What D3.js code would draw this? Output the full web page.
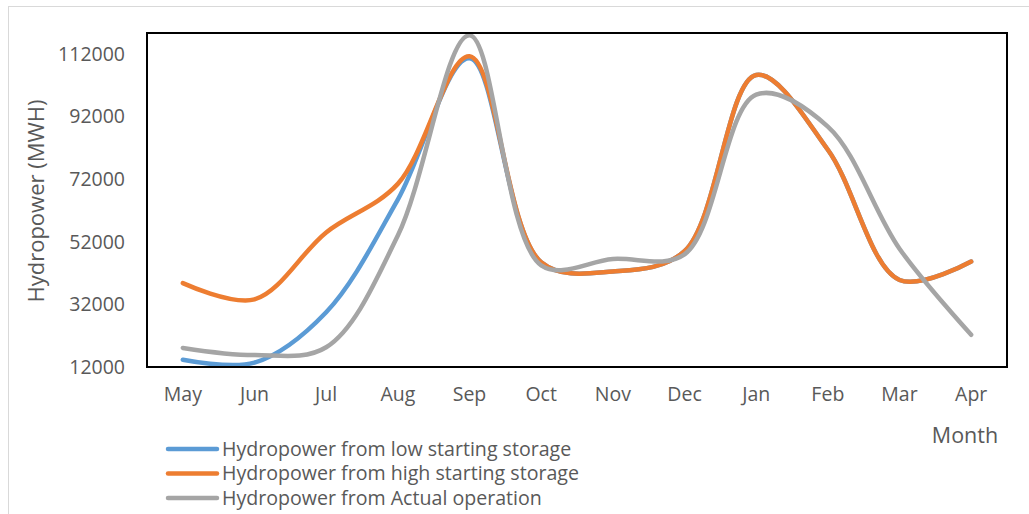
<!DOCTYPE html>
<html>
<head>
<meta charset="utf-8">
<script src="https://cdn.jsdelivr.net/npm/d3@7"></script>
<style>
  html, body { margin: 0; padding: 0; background: #fff; }
  svg { display: block; font-family: "Open Sans", "Noto Sans", sans-serif; }
</style>
</head>
<body>
<svg id="chart" width="1029" height="514"></svg>
<script>
// Monthly hydropower output (MWH) over the operating year, May to April
const months = ["May", "Jun", "Jul", "Aug", "Sep", "Oct", "Nov", "Dec", "Jan", "Feb", "Mar", "Apr"];
const lowStorage  = [14300, 13400, 29500, 65500, 110600, 45500, 42500, 49000, 105300, 81400, 39800, 45700];
const highStorage = [38800, 33600, 55000, 70500, 111300, 45500, 42500, 49000, 105300, 81400, 39800, 45700];
const actualOps   = [18100, 15800, 18300, 54000, 118000, 44500, 46500, 48000, 99000, 88800, 49800, 22300];
const yTicks = [12000, 32000, 52000, 72000, 92000, 112000];
const seriesNames = [
  "Hydropower from low starting storage",
  "Hydropower from high starting storage",
  "Hydropower from Actual operation"
];
const seriesColors = ["#5B9BD5", "#ED7D31", "#A5A5A5"];

const svg = d3.select("#chart");
const W = 1029, H = 514;
const plot = { left: 147, top: 33, right: 1007, bottom: 367 };

// outer chart-area border
svg.append("rect")
  .attr("x", 8.5).attr("y", 6.5)
  .attr("width", W + 10).attr("height", H + 10)
  .attr("fill", "#fff").attr("stroke", "#d9d9d9").attr("stroke-width", 1);

const x = d3.scaleBand().domain(months).range([plot.left, plot.right]).padding(0);
const xc = m => x(m) + x.bandwidth() / 2;
const y = d3.scaleLinear().domain([12000, 118700]).range([plot.bottom, plot.top]);

// y axis labels
const yAxis = d3.axisLeft(y).tickValues(yTicks).tickSize(0).tickPadding(0).tickFormat(d3.format("d"));
const gy = svg.append("g").attr("transform", `translate(125,0)`).call(yAxis);
gy.select(".domain").remove();
gy.selectAll("text")
  .attr("fill", "#595959").attr("font-size", 19.5)
  .attr("font-family", "'Open Sans', sans-serif");

// x axis labels
const xAxis = d3.axisBottom(x).tickSize(0).tickPadding(0);
const gx = svg.append("g").attr("transform", `translate(0,${plot.bottom + 20})`).call(xAxis);
gx.select(".domain").remove();
gx.selectAll("text")
  .attr("fill", "#595959").attr("font-size", 19.5)
  .attr("font-family", "'Open Sans', sans-serif");

// series lines (smoothed, centripetal spline keeps overshoot small)
const line = d3.line()
  .x((d, i) => xc(months[i]))
  .y(d => y(d))
  .curve(d3.curveCatmullRom.alpha(0.5));

const allSeries = [lowStorage, highStorage, actualOps];
svg.append("g").selectAll("path")
  .data(allSeries)
  .join("path")
  .attr("d", d => line(d))
  .attr("fill", "none")
  .attr("stroke", (d, i) => seriesColors[i])
  .attr("stroke-width", 4.5)
  .attr("stroke-linecap", "round")
  .attr("stroke-linejoin", "round");

// plot-area frame
svg.append("rect")
  .attr("x", plot.left).attr("y", plot.top)
  .attr("width", plot.right - plot.left).attr("height", plot.bottom - plot.top)
  .attr("fill", "none").attr("stroke", "#000").attr("stroke-width", 2);

// axis titles
svg.append("text")
  .attr("transform", `translate(44,201) rotate(-90)`)
  .attr("text-anchor", "middle")
  .attr("fill", "#595959").attr("font-size", 22)
  .text("Hydropower (MWH)");

svg.append("text")
  .attr("x", 965).attr("y", 443)
  .attr("text-anchor", "middle")
  .attr("fill", "#595959").attr("font-size", 21.5)
  .text("Month");

// legend
const legend = svg.append("g");
const legendY = [449, 473.5, 498];
seriesNames.forEach((name, i) => {
  legend.append("line")
    .attr("x1", 168).attr("x2", 217)
    .attr("y1", legendY[i]).attr("y2", legendY[i])
    .attr("stroke", seriesColors[i]).attr("stroke-width", 4.5)
    .attr("stroke-linecap", "round");
  legend.append("text")
    .attr("x", 222).attr("y", legendY[i])
    .attr("dy", "0.35em")
    .attr("fill", "#595959").attr("font-size", 19.6)
    .text(name);
});
</script>
</body>
</html>
